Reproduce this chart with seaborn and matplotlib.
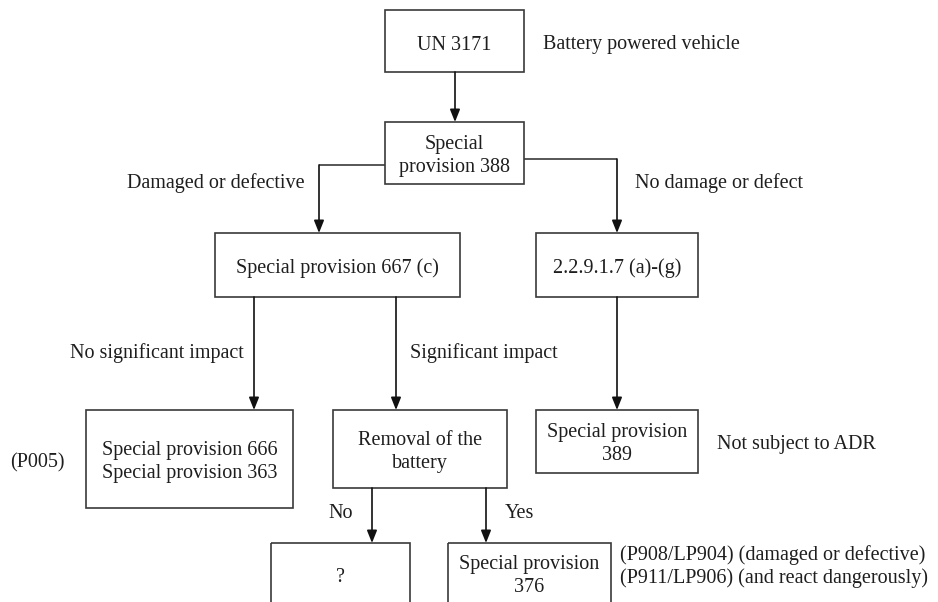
import matplotlib
matplotlib.use("Agg")
import matplotlib.pyplot as plt
from matplotlib.patches import Rectangle
import seaborn as sns

# node labels of the flowchart
node_labels = [
    "UN 3171",
    "Special\nprovision 388",
    "Special provision 667 (c)",
    "2.2.9.1.7 (a)-(g)",
    "Special provision 666\nSpecial provision 363",
    "Removal of the\nbattery",
    "Special provision\n389",
    "?",
    "Special provision\n376",
]
# layout of the nodes (pixel coords: left, top, right, bottom)
node_left = [385, 385, 215, 536, 86, 333, 536, 271, 448]
node_top = [10, 122, 233, 233, 410, 410, 410, 543, 543]
node_right = [524, 524, 460, 698, 293, 507, 698, 410, 611]
node_bottom = [72, 184, 297, 297, 508, 488, 473, 640, 640]
# text centre for each node (the last two boxes run off the page)
node_text_y = [43, 154, 266, 266, 460, 450, 442, 575, 574]

# connectors: polyline points, last segment carries the arrow head
edges = [
    [(455, 72), (455, 122)],
    [(385, 165), (319, 165), (319, 233)],
    [(524, 159), (617, 159), (617, 233)],
    [(254, 297), (254, 410)],
    [(396, 297), (396, 410)],
    [(617, 297), (617, 410)],
    [(372, 488), (372, 543)],
    [(486, 488), (486, 543)],
]

# free side notes
note_texts = [
    "Battery powered vehicle",
    "Damaged or defective",
    "No damage or defect",
    "No significant impact",
    "Significant impact",
    "(P005)",
    "Not subject to ADR",
    "No",
    "Yes",
    "(P908/LP904) (damaged or defective)",
    "(P911/LP906) (and react dangerously)",
]
note_x = [543, 127, 635, 70, 410, 10, 717, 328, 505, 620, 620]
note_y = [43, 181, 181, 351, 351, 461, 442, 512, 512, 553, 576]

sns.set_theme(style="white")
plt.rcParams["font.family"] = ["Liberation Serif", "DejaVu Serif"]

fig = plt.figure(figsize=(9.38, 6.02), dpi=100)
ax = fig.add_axes([0, 0, 1, 1])
ax.set_xlim(0, 938)
ax.set_ylim(602, 0)
ax.axis("off")

edge_col = "#3a3a3a"
text_col = "#1e1e1e"
fs = 14.5

for lab, l, t, r, b, ty in zip(node_labels, node_left, node_top, node_right,
                                node_bottom, node_text_y):
    ax.add_patch(Rectangle((l, t), r - l, b - t, fill=False, ec=edge_col, lw=1.2))
    ax.text((l + r) / 2, ty + 2, lab, ha="center", va="center", fontsize=fs,
            color=text_col, linespacing=1.3)

for pts in edges:
    xs = [p[0] for p in pts]
    ys = [p[1] for p in pts]
    if len(pts) > 2:
        ax.plot(xs[:-1], ys[:-1], color=edge_col, lw=1.2, solid_capstyle="butt")
    ax.annotate("", xy=pts[-1], xytext=pts[-2],
                arrowprops=dict(arrowstyle="-|>,head_length=0.75,head_width=0.3",
                                color="#111111", lw=1.2, shrinkA=0, shrinkB=0,
                                mutation_scale=10))

for txt, x, y in zip(note_texts, note_x, note_y):
    ax.text(x, y + 2, txt, ha="left", va="center", fontsize=fs, color=text_col)

fig.savefig("out.png", dpi=100, facecolor="white")
